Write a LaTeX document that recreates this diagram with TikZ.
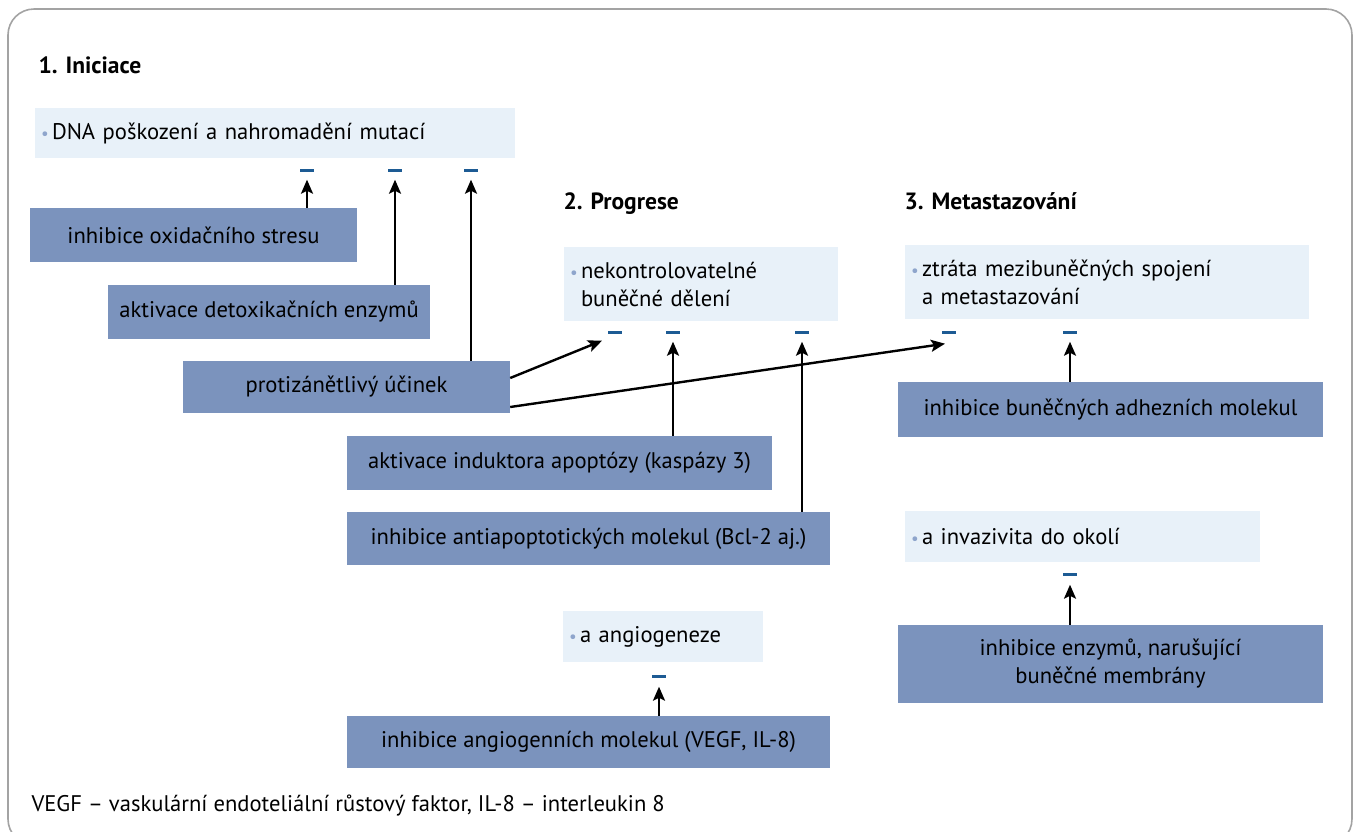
\documentclass[tikz,border=0pt]{standalone}
\usepackage{fontspec}
\setmainfont{PT Sans}
\usetikzlibrary{arrows.meta,calc}
\definecolor{cdark}{HTML}{7B93BD}
\definecolor{clight}{HTML}{E8F1F9}
\definecolor{cminus}{HTML}{1D5B94}
\definecolor{cbul}{HTML}{8EA5CC}
\definecolor{cframe}{HTML}{A3A3A3}
\newcommand{\boxfont}{\fontsize{22.6}{28}\selectfont}
\newcommand{\bul}{\makebox[11pt][l]{\textcolor{cbul}{\fontsize{17}{17}\selectfont\textbullet}}}
\tikzset{
  every picture/.style={x=1pt, y=-1pt, >={Stealth[length=14pt,width=12pt,inset=3pt]}},
  darkbox/.style={fill=cdark, inner sep=0pt, align=center, font=\boxfont},
  lightbox/.style={fill=clight, inner xsep=6pt, inner ysep=0pt, align=left, font=\boxfont},
  minus/.style={fill=cminus, minimum width=14pt, minimum height=3pt, inner sep=0pt},
  inh/.style={->, line width=2.4pt},
  head/.style={anchor=west, font=\fontsize{23.5}{28}\selectfont\bfseries},
}

\begin{document}
\begin{tikzpicture}
  \useasboundingbox (0,0) rectangle (1354,831);
  \draw[cframe, line width=1.6pt, rounded corners=26pt] (8,9) rectangle (1352,845);

  % headings
  \node[head] (h1) at (35,65) {1. Iniciace};
  \node[head] (h2) at (560,204) {2. Progrese};
  \node[head] (h3) at (901,201) {3. Metastazování};

  % processes
  \node[lightbox, minimum width=480pt, minimum height=50pt, text width=468pt] (dna) at (275,133)
    {\bul DNA poškození a nahromadění mutací};
  \node[lightbox, minimum width=274pt, minimum height=74pt, text width=262pt] (del) at (701,284)
    {\bul nekontrolovatelné\\\hphantom{\bul}buněčné dělení};
  \node[lightbox, minimum width=404pt, minimum height=74pt, text width=392pt] (ztr) at (1107,282)
    {\bul ztráta mezibuněčných spojení\\\hphantom{\bul}a metastazování};
  \node[lightbox, minimum width=355pt, minimum height=51pt, text width=343pt] (inv) at (1082.5,536.5)
    {\bul a invazivita do okolí};
  \node[lightbox, minimum width=200pt, minimum height=51pt, text width=188pt] (ang) at (663,636.5)
    {\bul a angiogeneze};

  % effects
  \node[darkbox, minimum width=327pt, minimum height=54pt] (oxid) at (193.5,235) {inhibice oxidačního stresu};
  \node[darkbox, minimum width=322pt, minimum height=54pt] (detox) at (269,312) {aktivace detoxikačních enzymů};
  \node[darkbox, minimum width=327pt, minimum height=52pt] (prot) at (346.5,387) {protizánětlivý účinek};
  \node[darkbox, minimum width=425pt, minimum height=54pt] (kasp) at (559.5,463) {aktivace induktora apoptózy (kaspázy 3)};
  \node[darkbox, minimum width=483pt, minimum height=53pt] (bcl) at (588.5,538.5) {inhibice antiapoptotických molekul (Bcl-2 aj.)};
  \node[darkbox, minimum width=483pt, minimum height=52pt] (vegf) at (588.5,742) {inhibice angiogenních molekul (VEGF, IL-8)};
  \node[darkbox, minimum width=425pt, minimum height=55pt] (adh) at (1110.5,409.5) {inhibice buněčných adhezních molekul};
  \node[darkbox, minimum width=425pt, minimum height=78pt] (enz) at (1110.5,664)
    {inhibice enzymů, narušující\\buněčné membrány};

  % minus signs
  \node[minus] (m1) at (307,170) {};
  \node[minus] (m2) at (395,170) {};
  \node[minus] (m3) at (471,170) {};
  \node[minus] (m4) at (615,332) {};
  \node[minus] (m5) at (673,332) {};
  \node[minus] (m6) at (802,332) {};
  \node[minus] (m7) at (949,332) {};
  \node[minus] (m8) at (1070,332) {};
  \node[minus] (m9) at (1070,574) {};
  \node[minus] (m10) at (659,676) {};

  % arrows
  \draw[inh] (oxid.north -| m1) -- ([yshift=-8pt]m1.south);
  \draw[inh] (detox.north -| m2) -- ([yshift=-8pt]m2.south);
  \draw[inh] (prot.north -| m3) -- ([yshift=-8pt]m3.south);
  \draw[inh] ([yshift=9pt]prot.east) -- ([xshift=-13pt,yshift=-7pt]m4.south);
  \draw[inh] ([yshift=-20pt]prot.east) -- ([xshift=-4pt,yshift=-10pt]m7.south);
  \draw[inh] (kasp.north -| m5) -- ([yshift=-8pt]m5.south);
  \draw[inh] (bcl.north -| m6) -- ([yshift=-8pt]m6.south);
  \draw[inh] (adh.north -| m8) -- ([yshift=-8pt]m8.south);
  \draw[inh] (enz.north -| m9) -- ([yshift=-9pt]m9.south);
  \draw[inh] (vegf.north -| m10) -- ([yshift=-9pt]m10.south);

  \node[anchor=west, font=\boxfont] (note) at (28,806)
    {VEGF – vaskulární endoteliální růstový faktor, IL-8 – interleukin 8};
\end{tikzpicture}
\end{document}
